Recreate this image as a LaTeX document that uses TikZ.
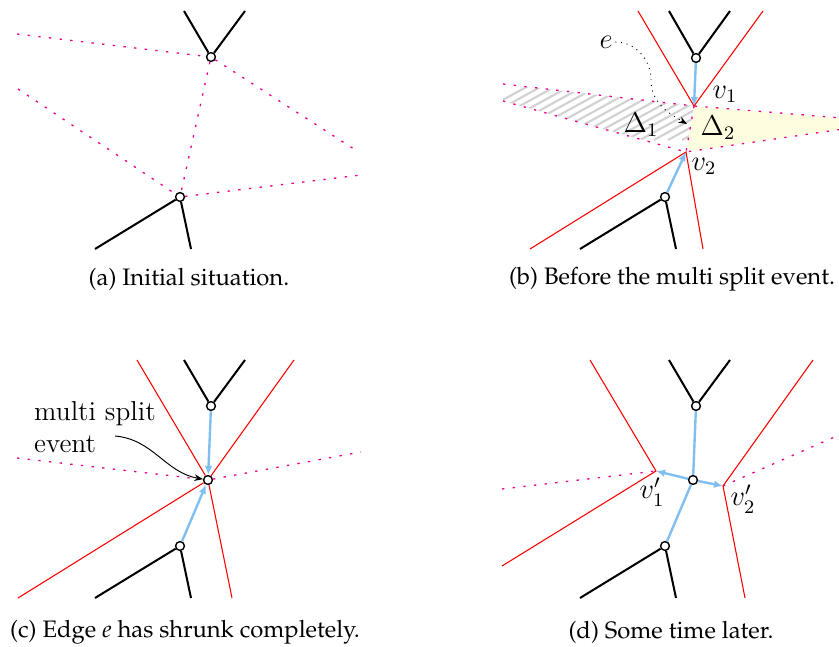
\documentclass[tikz,border=0pt]{standalone}
\usepackage[T1,TU]{fontenc}
\usetikzlibrary{arrows.meta}
\definecolor{skelblau}{HTML}{80BFEF}
\definecolor{gelb}{HTML}{FFFDE0}
\definecolor{schraffur}{HTML}{D2D2D2}
\newcommand{\capfont}{\fontencoding{T1}\fontfamily{ppl}\fontsize{10}{12}\selectfont}

\begin{document}
\begin{tikzpicture}[x=0.42pt,y=-0.42pt,
   poly/.style={line width=0.85pt},
   wfront/.style={red,line width=0.45pt},
   tri/.style={magenta,line width=0.55pt,dash pattern=on 1pt off 3.5pt},
   skel/.style={skelblau,line width=1pt},
   skelpfeil/.style={skel,-{Latex[length=3.8pt,width=3.2pt]}},
   hinweis/.style={line width=0.4pt,-{Stealth[length=3.6pt,width=2.8pt]}},
   vtx/.style={circle,draw,fill=white,line width=0.6pt,inner sep=0pt,minimum size=3.7pt},
   lab/.style={inner sep=1pt,font=\fontsize{11.5}{13.5}\selectfont},
   subcap/.style={inner sep=0pt,font=\capfont}]
  \useasboundingbox (0,0) rectangle (839,647);
  \clip (0,0) rectangle (839,647);
  % --- (a) Anfangssituation ---
  \node[vtx] (a1) at (211,57) {};
  \node[vtx] (a2) at (180,197) {};
  \coordinate (a1l) at (184,11);  \coordinate (a1r) at (245,11);
  \coordinate (a2l) at (95,249);  \coordinate (a2r) at (191,249);
  \coordinate (ta1) at (17,34);   \coordinate (ta2) at (357,151);
  \coordinate (ta3) at (18,89);   \coordinate (ta4) at (361,175);
  \draw[tri] (ta1) -- (a1);
  \draw[tri] (a1) -- (ta2);
  \draw[tri] (a1) -- (a2);
  \draw[tri] (ta3) -- (a2);
  \draw[tri] (a2) -- (ta4);
  \draw[poly] (a1l) -- (a1) -- (a1r);
  \draw[poly] (a2l) -- (a2) -- (a2r);
  \node[subcap] (capa) at (189,279) {(a) Initial situation.};
  % --- (b) vor dem multi split event ---
  \coordinate (v1) at (694,106);
  \coordinate (v2) at (686,152);
  \coordinate (tbl) at (503,84);  \coordinate (tbu) at (503,101);
  \coordinate (tbr) at (891,122);
  \fill[gelb] (v1) -- (tbr) -- (v2) -- cycle;
  \begin{scope}
    \clip (tbl) -- (v1) -- (v2) -- (tbu) -- cycle;
    \foreach \k in {430,444,...,700}
      \draw[schraffur,line width=0.9pt] (\k,140) -- ++(140,-77);
  \end{scope}
  \draw[tri] (tbl) -- (v1) -- (tbr);
  \draw[tri] (tbu) -- (v2) -- (tbr);
  \draw[tri] (v1) -- (v2);
  \node[vtx] (b1) at (696,58) {};
  \node[vtx] (b2) at (665,197) {};
  \coordinate (b1l) at (669,11);  \coordinate (b1r) at (730,11);
  \coordinate (b2l) at (580,249); \coordinate (b2r) at (676,249);
  \coordinate (wb1) at (638,11);  \coordinate (wb2) at (763,11);
  \coordinate (wb3) at (530,249); \coordinate (wb4) at (703,249);
  \draw[wfront] (wb1) -- (v1) -- (wb2);
  \draw[wfront] (wb3) -- (v2) -- (wb4);
  \draw[poly] (b1l) -- (b1) -- (b1r);
  \draw[poly] (b2l) -- (b2) -- (b2r);
  \draw[skelpfeil] (b1) -- (v1);
  \draw[skelpfeil] (b2) -- (v2);
  \node[lab] (lv1) at (725,94) {$v_1$};
  \node[lab] (lv2) at (704,166) {$v_2$};
  \node[lab] (ld1) at (641,125) {$\Delta_1$};
  \node[lab] (ld2) at (718,128) {$\Delta_2$};
  \node[lab] (le) at (606,42) {$e$};
  \coordinate (etip) at (687,124);
  \draw[hinweis,dotted] (le.east) to[out=0,in=90] (651,80) to[out=-90,in=150] (etip);
  \node[subcap] (capb) at (672,279) {(b) Before the multi split event.};
  % --- (c) Kante e ist verschwunden ---
  \node[vtx] (c1) at (211,406) {};
  \node[vtx] (c0) at (208,480) {};
  \node[vtx] (c2) at (180,546) {};
  \coordinate (c1l) at (184,360); \coordinate (c1r) at (245,360);
  \coordinate (c2l) at (95,598);  \coordinate (c2r) at (191,598);
  \coordinate (wc1) at (137,360); \coordinate (wc2) at (294,360);
  \coordinate (wc3) at (18,598);  \coordinate (wc4) at (232,598);
  \coordinate (tc1) at (17,458);  \coordinate (tc2) at (361,452);
  \draw[tri] (tc1) -- (c0);
  \draw[tri] (c0) -- (tc2);
  \draw[wfront] (wc1) -- (c0);
  \draw[wfront] (wc2) -- (c0);
  \draw[wfront] (wc3) -- (c0);
  \draw[wfront] (wc4) -- (c0);
  \draw[poly] (c1l) -- (c1) -- (c1r);
  \draw[poly] (c2l) -- (c2) -- (c2r);
  \draw[skelpfeil] (c1) -- (c0);
  \draw[skelpfeil] (c2) -- (c0);
  \node[lab,align=left] (msl) at (95,427) {multi split\\event};
  \coordinate (mss) at (115,436);
  \draw[hinweis] (mss) to[out=-5,in=170] (c0);
  \node[subcap] (capc) at (185,632) {(c) Edge \textit{e} has shrunk completely.};
  % --- (d) etwas spaeter ---
  \coordinate (v1s) at (656,471);
  \coordinate (v2s) at (723,486);
  \node[vtx] (d1) at (696,406) {};
  \node[vtx] (d0) at (693,480) {};
  \node[vtx] (d2) at (665,546) {};
  \coordinate (d1l) at (669,360); \coordinate (d1r) at (730,360);
  \coordinate (d2l) at (580,598); \coordinate (d2r) at (676,598);
  \coordinate (wd1) at (590,360); \coordinate (wd2) at (502,566);
  \coordinate (wd3) at (813,360); \coordinate (wd4) at (745,598);
  \coordinate (td1) at (502,489); \coordinate (td2) at (839,435);
  \draw[tri] (td1) -- (v1s);
  \draw[tri] (v2s) -- (td2);
  \draw[wfront] (wd1) -- (v1s) -- (wd2);
  \draw[wfront] (wd3) -- (v2s) -- (wd4);
  \draw[poly] (d1l) -- (d1) -- (d1r);
  \draw[poly] (d2l) -- (d2) -- (d2r);
  \draw[skel] (d1) -- (d0);
  \draw[skel] (d2) -- (d0);
  \draw[skelpfeil] (d0) -- (v1s);
  \draw[skelpfeil] (d0) -- (v2s);
  \node[lab] (lv1s) at (652,492) {$v_1'$};
  \node[lab] (lv2s) at (743,499) {$v_2'$};
  \node[subcap] (capd) at (671,632) {(d) Some time later.};
\end{tikzpicture}
\end{document}
